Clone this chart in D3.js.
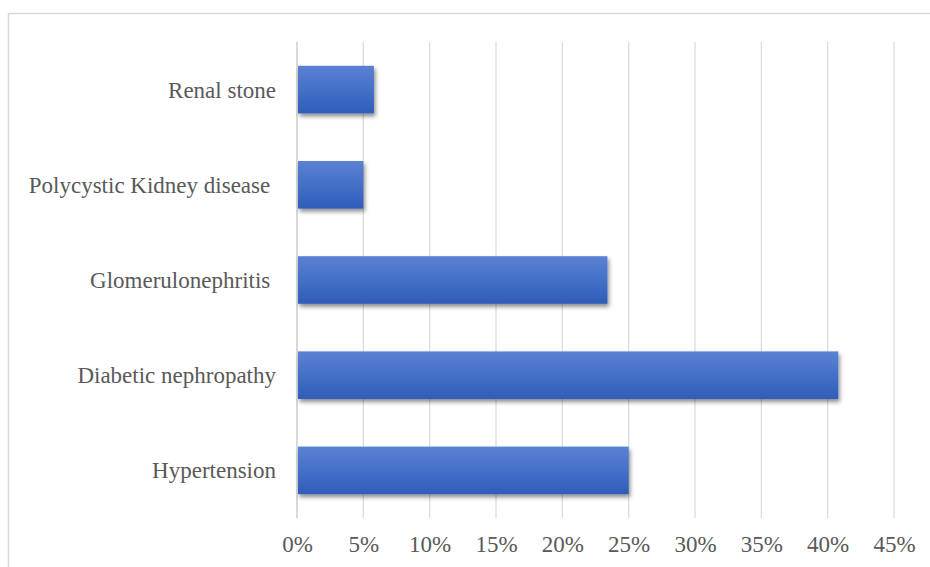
<!DOCTYPE html>
<html>
<head>
<meta charset="utf-8">
<script src="https://cdn.jsdelivr.net/npm/d3@7"></script>
<style>
  html, body { margin: 0; padding: 0; background: #fff; }
  svg { display: block; }
  .lbl { font-family: "Liberation Serif", "Times New Roman", Times, serif; font-size: 23px; }
</style>
</head>
<body>
<svg id="chart" width="930" height="567"></svg>
<script>
// Causes of chronic kidney disease, share of patients (%)
const categories = [
  "Renal stone",
  "Polycystic Kidney disease ",
  "Glomerulonephritis ",
  "Diabetic nephropathy",
  "Hypertension"
];
const percentages = [5.8, 5.0, 23.4, 40.8, 25.0];
const tickValues = [0, 5, 10, 15, 20, 25, 30, 35, 40, 45];
const tickLabels = ["0%", "5%", "10%", "15%", "20%", "25%", "30%", "35%", "40%", "45%"];

const rows = categories.map((c, i) => ({ category: c, value: percentages[i] }));

const svg = d3.select("#chart");
const W = 930, H = 567;
const plot = { left: 297, right: 894, top: 42, bottom: 518 };
const textColor = "#595959";

// Chart area frame
svg.append("rect")
  .attr("x", 8.5).attr("y", 13.5)
  .attr("width", W + 20).attr("height", H + 20)
  .attr("fill", "#fff")
  .attr("stroke", "#d9d9d9")
  .attr("stroke-width", 1.5);

const defs = svg.append("defs");
const grad = defs.append("linearGradient")
  .attr("id", "barFill").attr("x1", 0).attr("y1", 0).attr("x2", 0).attr("y2", 1);
grad.append("stop").attr("offset", "0%").attr("stop-color", "#5b81d2");
grad.append("stop").attr("offset", "50%").attr("stop-color", "#4470c8");
grad.append("stop").attr("offset", "100%").attr("stop-color", "#2f5cb8");

const shadow = defs.append("filter").attr("id", "barShadow")
  .attr("x", "-5%").attr("y", "-20%").attr("width", "115%").attr("height", "160%");
shadow.append("feDropShadow")
  .attr("dx", 1.5).attr("dy", 3).attr("stdDeviation", 2)
  .attr("flood-color", "#000").attr("flood-opacity", 0.45);

const x = d3.scaleLinear().domain([0, 45]).range([plot.left, plot.right]);
const y = d3.scaleBand()
  .domain(categories)
  .range([plot.top, plot.bottom])
  .paddingInner(0.5)
  .paddingOuter(0.25);

// Vertical gridlines
svg.append("g")
  .selectAll("line")
  .data(tickValues.slice(1))
  .join("line")
  .attr("x1", d => x(d)).attr("x2", d => x(d))
  .attr("y1", plot.top).attr("y2", plot.bottom)
  .attr("stroke", "#d9d9d9")
  .attr("stroke-width", 1.2);

// Category axis line
svg.append("line")
  .attr("x1", x(0)).attr("x2", x(0))
  .attr("y1", plot.top).attr("y2", plot.bottom)
  .attr("stroke", "#d9d9d9")
  .attr("stroke-width", 2);

// Bars
svg.append("g")
  .selectAll("rect")
  .data(rows)
  .join("rect")
  .attr("x", x(0) + 1)
  .attr("y", d => y(d.category))
  .attr("width", d => x(d.value) - x(0) - 1)
  .attr("height", y.bandwidth())
  .attr("fill", "url(#barFill)")
  .attr("filter", "url(#barShadow)");

// Value axis labels
const xAxis = d3.axisBottom(x)
  .tickValues(tickValues)
  .tickFormat((d, i) => tickLabels[i])
  .tickSize(0)
  .tickPadding(0);
const gx = svg.append("g")
  .attr("transform", `translate(0, ${plot.bottom})`)
  .call(xAxis)
  .attr("font-family", null)
  .attr("font-size", null);
gx.select(".domain").remove();
gx.selectAll("text")
  .attr("class", "lbl")
  .attr("y", 34)
  .attr("dy", 0)
  .attr("fill", textColor);

// Category axis labels
const yAxis = d3.axisLeft(y).tickSize(0).tickPadding(0);
const gy = svg.append("g")
  .attr("transform", `translate(${plot.left - 21}, 0)`)
  .call(yAxis)
  .attr("font-family", null)
  .attr("font-size", null);
gy.select(".domain").remove();
gy.selectAll("text")
  .attr("class", "lbl")
  .attr("dy", "0.35em")
  .attr("fill", textColor)
  .style("white-space", "pre");
</script>
</body>
</html>
